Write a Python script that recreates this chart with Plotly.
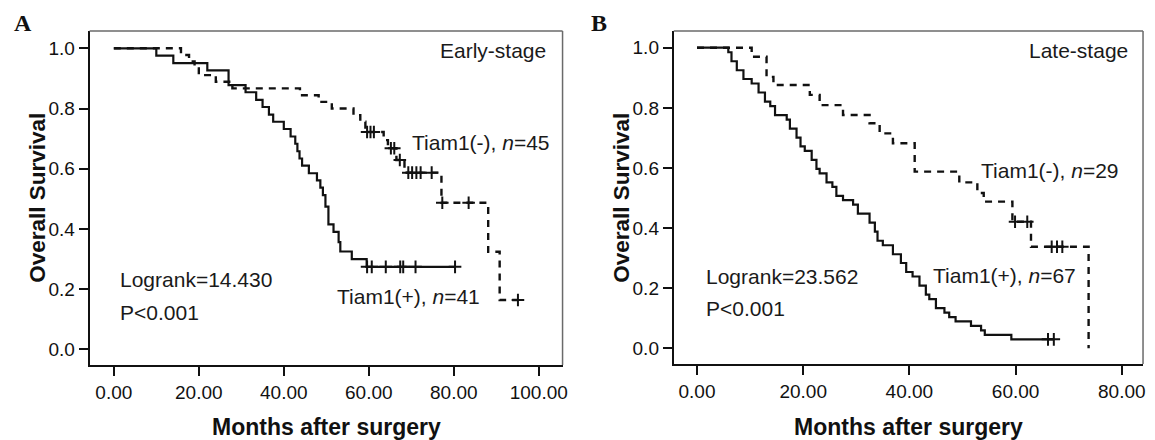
import plotly.graph_objects as go

# ---------------- data ----------------
# Panel A: Early-stage
A_pos_times = [0, 10, 14, 22, 27, 31, 33.5, 35, 36.5, 37.5, 40, 41.6, 42.7, 43.2, 43.7, 44.3, 45.9,
               47.8, 48.6, 49.2, 49.8, 50.5, 51.7, 52.9, 53.3, 56, 59.5]
A_pos_surv = [1.0, 0.976, 0.951, 0.927, 0.878, 0.854, 0.829, 0.805, 0.780, 0.756, 0.732, 0.707, 0.683,
              0.658, 0.634, 0.610, 0.585, 0.561, 0.537, 0.512, 0.474, 0.415, 0.390, 0.356, 0.325, 0.300, 0.274]
A_pos_end = 80.3
A_pos_censor = [59.6, 60.7, 64, 67.4, 68.1, 71, 80.3]

A_neg_times = [0, 15.8, 17.7, 19, 20, 24, 27.9, 43.8, 48.2, 51.3, 56.4, 58, 59.2, 63.5, 64.5, 66.5,
               68.4, 77.1, 88.1, 90.8]
A_neg_surv = [1.0, 0.978, 0.956, 0.933, 0.911, 0.889, 0.867, 0.844, 0.822, 0.800, 0.778, 0.756, 0.722,
              0.695, 0.668, 0.629, 0.587, 0.487, 0.324, 0.164]
A_neg_end = 95.1
A_neg_censor = [59.6, 60.4, 61.2, 65.2, 66.0, 67.3, 69.3, 70.2, 71.2, 72.2, 74.8, 77.3, 83.5, 95.1]

# Panel B: Late-stage
B_pos_times = [0, 5.9, 6.5, 7.5, 8.75, 10.3, 11.6, 12.8, 13.8, 14.7, 16.9, 17.5, 18.75, 19.5, 20.3,
               21.6, 22.5, 23.1, 24.4, 25.5, 26.25, 27.5, 29.4, 30.3, 32.5, 33.5, 34, 35, 36.9, 38.4,
               39.4, 40.6, 41.9, 43.1, 43.75, 45, 46.6, 47.5, 48.7, 51.6, 53.5, 54.2, 59.2]
B_pos_surv = [1.0, 0.985, 0.955, 0.925, 0.896, 0.881, 0.851, 0.821, 0.806, 0.776, 0.761, 0.731, 0.701,
              0.672, 0.657, 0.627, 0.597, 0.582, 0.552, 0.537, 0.507, 0.493, 0.478, 0.448, 0.418, 0.388,
              0.358, 0.343, 0.313, 0.284, 0.254, 0.239, 0.209, 0.179, 0.164, 0.134, 0.119, 0.104, 0.090,
              0.075, 0.060, 0.045, 0.030]
B_pos_end = 67.2
B_pos_censor = [66.1, 67.2]

B_neg_times = [0, 10.3, 13.1, 14.4, 21.25, 23.1, 27.5, 32.5, 34.4, 36.9, 41.0, 49.4, 52.8, 54.0, 59.4,
               62.9, 73.75]
B_neg_surv = [1.0, 0.970, 0.903, 0.876, 0.843, 0.809, 0.776, 0.749, 0.715, 0.682, 0.588, 0.552, 0.517,
              0.488, 0.421, 0.338, 0.0]
B_neg_end = None
B_neg_censor = [59.9, 62.2, 66.8, 67.8, 68.8]

A_xticks = [0, 20, 40, 60, 80, 100]
B_xticks = [0, 20, 40, 60, 80]
y_ticks = [0.0, 0.2, 0.4, 0.6, 0.8, 1.0]

# ---------------- helpers ----------------
def step_xy(times, surv, end):
    x = list(times)
    y = list(surv)
    if end is not None:
        x.append(end)
        y.append(surv[-1])
    return x, y


def surv_at(times, surv, t):
    v = surv[0]
    for ti, si in zip(times, surv):
        if ti <= t:
            v = si
    return v


FONT = "Liberation Sans, Arial, sans-serif"
fig = go.Figure()

panels = [
    ("x", "y", [(A_pos_times, A_pos_surv, A_pos_end, A_pos_censor, "solid"),
                (A_neg_times, A_neg_surv, A_neg_end, A_neg_censor, "dash")]),
    ("x2", "y2", [(B_pos_times, B_pos_surv, B_pos_end, B_pos_censor, "solid"),
                  (B_neg_times, B_neg_surv, B_neg_end, B_neg_censor, "dash")]),
]

for xa, ya, series in panels:
    for times, surv, end, cens, style in series:
        x, y = step_xy(times, surv, end)
        fig.add_trace(go.Scatter(
            x=x, y=y, mode="lines", line_shape="hv", xaxis=xa, yaxis=ya,
            line=dict(color="#111111", width=2.4 if style == "dash" else 2.2,
                      dash="7px,6px" if style == "dash" else "solid"),
            showlegend=False, hoverinfo="skip"))
        fig.add_trace(go.Scatter(
            x=cens, y=[surv_at(times, surv, c) for c in cens], mode="markers",
            xaxis=xa, yaxis=ya,
            marker=dict(symbol="cross-thin", size=9, line=dict(color="#111111", width=2)),
            showlegend=False, hoverinfo="skip"))

axis_common = dict(showgrid=False, zeroline=False, showline=True, linecolor="#111111", linewidth=2,
                   ticks="outside", ticklen=9, tickwidth=2, tickcolor="#111111",
                   tickfont=dict(family=FONT, size=19, color="#111111"))

fig.update_layout(
    width=1155, height=440,
    margin=dict(l=0, r=0, t=0, b=0),
    paper_bgcolor="white", plot_bgcolor="white",
    xaxis=dict(domain=[90 / 1155, 565 / 1155], range=[-5.7, 105.6], tickvals=A_xticks,
               tickformat=".2f", anchor="y", **axis_common),
    yaxis=dict(domain=[1 - 365 / 440, 1 - 31 / 440], range=[-0.052, 1.0575], tickvals=y_ticks,
               tickformat=".1f", anchor="x", **axis_common),
    xaxis2=dict(domain=[676.7 / 1155, 1148 / 1155], range=[-4.37, 84.0], tickvals=B_xticks,
                tickformat=".2f", anchor="y2", **axis_common),
    yaxis2=dict(domain=[1 - 364 / 440, 1 - 31 / 440], range=[-0.052, 1.0556], tickvals=y_ticks,
                tickformat=".1f", anchor="x2", **axis_common),
)

# top / right frame lines (thinner, grey)
for xr, yr in [("x domain", "y domain"), ("x2 domain", "y2 domain")]:
    fig.add_shape(type="line", xref=xr, yref=yr, x0=0, x1=1, y0=1, y1=1,
                  line=dict(color="#6a6a6a", width=1.5))
    fig.add_shape(type="line", xref=xr, yref=yr, x0=1, x1=1, y0=0, y1=1,
                  line=dict(color="#6a6a6a", width=1.5))


def ann(text, px, py, xanchor="left", size=21, bold=False, family=FONT, angle=0, color="#1a1a1a"):
    fig.add_annotation(text=text, x=px / 1155, y=1 - py / 440, xref="paper", yref="paper",
                       xanchor=xanchor, yanchor="middle", showarrow=False, textangle=angle,
                       font=dict(family=family, size=size, color=color,
                                 weight="bold" if bold else "normal"))


# Panel A texts
ann("Early-stage", 550, 50, xanchor="right")
ann("Tiam1(-), <i>n</i>=45", 411.7, 143)
ann("Tiam1(+), <i>n</i>=41", 336.7, 296.7)
ann("Logrank=14.430", 118.3, 279.3)
ann("P<0.001", 118.3, 312.7)
ann("A", 11.7, 23.3, size=24, bold=True, family="Liberation Serif, Times New Roman, serif", color="#111111")
ann("Overall Survival", 38, 198, xanchor="center", size=22.5, bold=True, angle=-90, color="#111111")
ann("Months after surgery", 327.5, 426.7, xanchor="center", size=23, bold=True, color="#111111")

# Panel B texts
ann("Late-stage", 1135, 50, xanchor="right")
ann("Tiam1(-), <i>n</i>=29", 983.3, 170)
ann("Tiam1(+), <i>n</i>=67", 935, 275)
ann("Logrank=23.562", 706.7, 276)
ann("P<0.001", 706.7, 308.3)
ann("B", 591.7, 23, size=24, bold=True, family="Liberation Serif, Times New Roman, serif", color="#111111")
ann("Overall Survival", 624, 197.5, xanchor="center", size=22.5, bold=True, angle=-90, color="#111111")
ann("Months after surgery", 912.3, 426.7, xanchor="center", size=23, bold=True, color="#111111")

fig.write_html("out.html",
               config={"displayModeBar": False},
               post_script="document.body.style.margin='0px';document.body.style.padding='0px';"
                           "document.documentElement.style.overflow='hidden';")
